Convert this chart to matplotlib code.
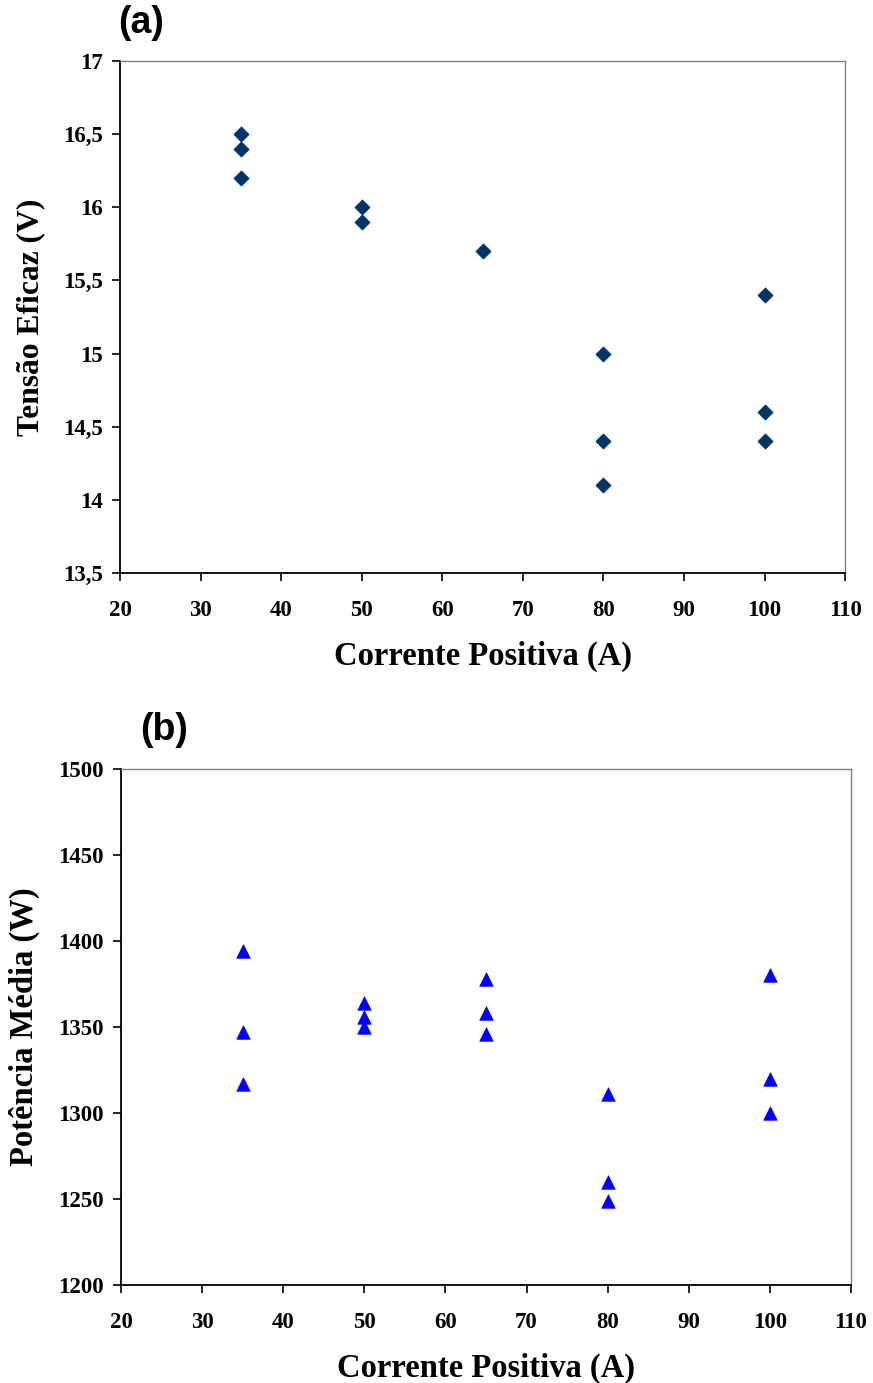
import matplotlib
matplotlib.use('Agg')
import matplotlib.pyplot as plt
from matplotlib.ticker import FuncFormatter, MultipleLocator

# panel (a) - tensao eficaz
corrente_a = [35, 35, 35, 50, 50, 65, 80, 80, 80, 100, 100, 100]
tensao = [16.5, 16.4, 16.2, 16.0, 15.9, 15.7, 15.0, 14.4, 14.1, 15.4, 14.6, 14.4]

# panel (b) - potencia media
corrente_b = [35, 35, 35, 50, 50, 50, 65, 65, 65, 80, 80, 80, 100, 100, 100]
potencia = [1394, 1347, 1317, 1364, 1356, 1350, 1378, 1358, 1346, 1311, 1260, 1249, 1380, 1320, 1300]

SERIF = ['Liberation Serif', 'DejaVu Serif']
SANS = ['Liberation Sans', 'DejaVu Sans']


def comma_fmt(v, pos):
    s = ('%.1f' % v).rstrip('0').rstrip('.')
    return s.replace('.', ',')


def style_axes(ax):
    for side in ['top', 'right']:
        ax.spines[side].set_color('#808080')
        ax.spines[side].set_linewidth(1.0)
    for side in ['left', 'bottom']:
        ax.spines[side].set_color('black')
        ax.spines[side].set_linewidth(1.3)
    ax.tick_params(direction='out', length=5.5, width=1.2,
                   top=False, right=False)
    ax.tick_params(axis='x', pad=14)
    ax.tick_params(axis='y', pad=7)
    for lab in ax.get_xticklabels() + ax.get_yticklabels():
        lab.set_family(SERIF)
        lab.set_fontweight('bold')
        lab.set_fontsize(16.5)


fig = plt.figure(figsize=(8.73, 13.83), dpi=100)

# (a)
ax1 = fig.add_axes([0.1375, 0.5857, 0.8305, 0.3702])
ax1.scatter(corrente_a, tensao, marker='D', s=60, color='#003366',
            edgecolors='#003366', linewidths=0.5, zorder=3)
ax1.set_xlim(20, 110)
ax1.set_ylim(13.5, 17)
ax1.xaxis.set_major_locator(MultipleLocator(10))
ax1.yaxis.set_major_locator(MultipleLocator(0.5))
ax1.yaxis.set_major_formatter(FuncFormatter(comma_fmt))
style_axes(ax1)
ax1.set_xlabel('Corrente Positiva (A)', family=SERIF, fontweight='bold',
               fontsize=23.5, labelpad=14)
ax1.set_ylabel('Tensão Eficaz (V)', family=SERIF, fontweight='bold',
               fontsize=22.7, labelpad=13)
fig.text(0.135, 0.9834, '(a)', family=SANS, fontweight='bold',
         fontsize=27, ha='left', va='center')

# (b)
ax2 = fig.add_axes([0.1386, 0.0709, 0.8362, 0.3731])
ax2.scatter(corrente_b, potencia, marker='^', s=95, color='#0000FF',
            edgecolors='#0000FF', linewidths=0.5, zorder=3)
ax2.set_xlim(20, 110)
ax2.set_ylim(1200, 1500)
ax2.xaxis.set_major_locator(MultipleLocator(10))
ax2.yaxis.set_major_locator(MultipleLocator(50))
style_axes(ax2)
ax2.set_xlabel('Corrente Positiva (A)', family=SERIF, fontweight='bold',
               fontsize=23.5, labelpad=14)
ax2.set_ylabel('Potência Média (W)', family=SERIF, fontweight='bold',
               fontsize=23.5, labelpad=13)
fig.text(0.16, 0.4722, '(b)', family=SANS, fontweight='bold',
         fontsize=27, ha='left', va='center')

fig.savefig('out.png', dpi=100)
